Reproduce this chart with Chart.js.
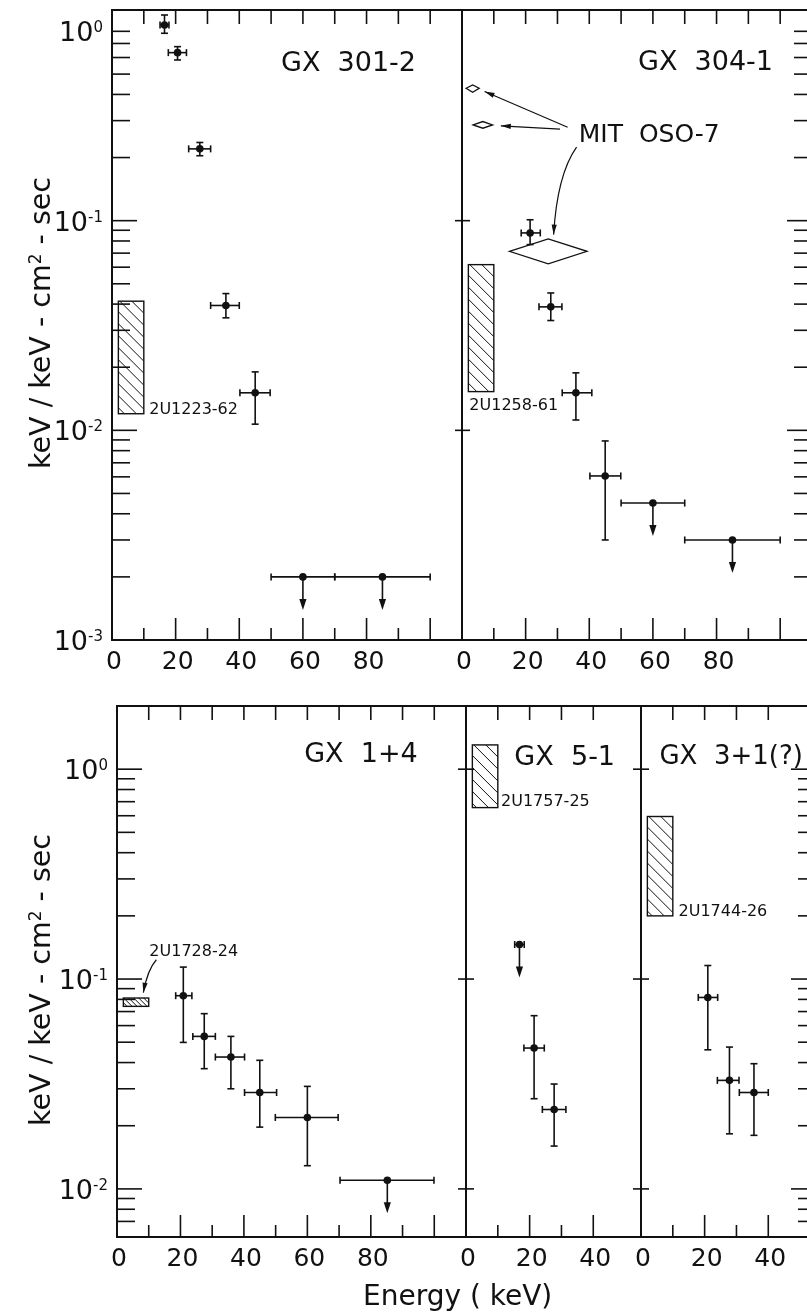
<!DOCTYPE html>
<html>
<head>
<meta charset="utf-8">
<script src="https://cdn.jsdelivr.net/npm/chart.js@4.4.1/dist/chart.umd.min.js"></script>
<style>
  html, body { margin: 0; padding: 0; background: #fff; width: 807px; height: 1313px; overflow: hidden; }
  canvas { position: absolute; }
</style>
</head>
<body>
<canvas id="gx301"></canvas>
<canvas id="gx304"></canvas>
<canvas id="gx1"></canvas>
<canvas id="gx5"></canvas>
<canvas id="gx3"></canvas>
<script>
(() => {
  'use strict';

  const INK = '#111';
  const FONT = '"DejaVu Sans", "Liberation Sans", sans-serif';

  // ---- data (keV, keV/keV-cm2-sec) ----
  // GX 301-2
  const gx301Energy   = [16.5, 20.6, 27.6, 35.8, 45.0];
  const gx301EnergyLo = [15.1, 17.7, 24.1, 31.0, 40.2];
  const gx301EnergyHi = [17.9, 23.4, 31.0, 40.0, 49.7];
  const gx301Flux     = [0.858, 0.633, 0.220, 0.0394, 0.0151];
  const gx301FluxLo   = [0.783, 0.584, 0.204, 0.0344, 0.0107];
  const gx301FluxHi   = [0.957, 0.676, 0.236, 0.0449, 0.0190];
  const gx301LimEnergy = [60, 85];
  const gx301LimLo     = [50, 70];
  const gx301LimHi     = [70, 100];
  const gx301LimFlux   = [0.002, 0.002];
  const gx301Uhuru     = [2, 10, 0.0120, 0.0413]; // keV lo, keV hi, flux lo, flux hi

  // GX 304-1
  const gx304Energy   = [21.4, 27.9, 35.8, 45.0];
  const gx304EnergyLo = [18.6, 24.2, 31.5, 40.2];
  const gx304EnergyHi = [24.6, 31.4, 40.8, 49.9];
  const gx304Flux     = [0.0874, 0.0388, 0.0151, 0.00606];
  const gx304FluxLo   = [0.0769, 0.0334, 0.0112, 0.0030];
  const gx304FluxHi   = [0.101, 0.0452, 0.0188, 0.0089];
  const gx304LimEnergy = [60, 85];
  const gx304LimLo     = [50, 70];
  const gx304LimHi     = [70, 100];
  const gx304LimFlux   = [0.0045, 0.003];
  const gx304Uhuru     = [2, 10, 0.0153, 0.0617];
  // MIT OSO-7 bands drawn as diamonds
  const osoEnergyLo = [1.3, 3.5, 14.9];
  const osoEnergyHi = [5.4, 9.6, 39.3];
  const osoFlux     = [0.428, 0.286, 0.0714];
  const osoFluxLo   = [0.410, 0.276, 0.0622];
  const osoFluxHi   = [0.444, 0.297, 0.0818];

  // GX 1+4
  const gx1Energy   = [20.9, 27.5, 35.9, 45.0, 60.0];
  const gx1EnergyLo = [18.5, 23.9, 31.0, 40.2, 49.9];
  const gx1EnergyHi = [23.6, 31.0, 40.2, 50.3, 69.7];
  const gx1Flux     = [0.0833, 0.0533, 0.0425, 0.0288, 0.0219];
  const gx1FluxLo   = [0.0499, 0.0374, 0.0300, 0.0197, 0.0129];
  const gx1FluxHi   = [0.114, 0.0684, 0.0533, 0.0410, 0.0308];
  const gx1LimEnergy = [85.2];
  const gx1LimLo     = [70.3];
  const gx1LimHi     = [99.9];
  const gx1LimFlux   = [0.011];
  const gx1Uhuru     = [2, 10, 0.0741, 0.0812];

  // GX 5-1
  const gx5Energy   = [21.4, 27.7];
  const gx5EnergyLo = [18.2, 24.0];
  const gx5EnergyHi = [24.6, 31.4];
  const gx5Flux     = [0.0469, 0.0239];
  const gx5FluxLo   = [0.0269, 0.0160];
  const gx5FluxHi   = [0.0669, 0.0316];
  const gx5LimEnergy = [16.8];
  const gx5LimLo     = [15.3];
  const gx5LimHi     = [18.3];
  const gx5LimFlux   = [0.146];
  const gx5Uhuru     = [2, 10, 0.656, 1.305];

  // GX 3+1(?)
  const gx3Energy   = [21.0, 27.8, 35.5];
  const gx3EnergyLo = [18.0, 24.0, 30.9];
  const gx3EnergyHi = [24.1, 30.8, 40.0];
  const gx3Flux     = [0.0817, 0.0329, 0.0288];
  const gx3FluxLo   = [0.046, 0.0183, 0.018];
  const gx3FluxHi   = [0.116, 0.0474, 0.0395];
  const gx3Uhuru    = [2, 10, 0.200, 0.595];

  // ---- tick labels ----
  const xLabelsWide   = [0, 20, 40, 60, 80];
  const xLabelsNarrow = [0, 20, 40];
  const topYLabelExp  = [0, -1, -2, -3];
  const topYLabelAt   = [0.8, 0.1, 0.01, 0.001]; // the original prints 10^0 beside its 0.8 tick
  const botYLabelExp  = [0, -1, -2];
  const botYLabelAt   = [1, 0.1, 0.01];

  const zip = (e, lo, hi, f, flo, fhi) => e.map((x, i) => ({
    x, y: f[i], xLo: lo[i], xHi: hi[i],
    yLo: flo ? flo[i] : null, yHi: fhi ? fhi[i] : null
  }));

  function logTicks(min, max) {
    const out = [];
    for (let k = -4; k <= 1; k++) {
      for (let m = 1; m <= 9; m++) {
        const v = m * Math.pow(10, k);
        if (v > min && v < max) out.push({ v, major: m === 1 });
      }
    }
    return out;
  }

  function line(ctx, x1, y1, x2, y2) {
    ctx.beginPath(); ctx.moveTo(x1, y1); ctx.lineTo(x2, y2); ctx.stroke();
  }

  function arrowHead(ctx, x1, y1, x2, y2, len, half) {
    const a = Math.atan2(y2 - y1, x2 - x1);
    ctx.beginPath();
    ctx.moveTo(x2, y2);
    ctx.lineTo(x2 - len * Math.cos(a) + half * Math.sin(a), y2 - len * Math.sin(a) - half * Math.cos(a));
    ctx.lineTo(x2 - len * Math.cos(a) - half * Math.sin(a), y2 - len * Math.sin(a) + half * Math.cos(a));
    ctx.closePath(); ctx.fill();
  }

  // text with superscript parts: [[text, isSup], ...]
  function supText(ctx, parts, x, y, size, supSize, align) {
    const w = parts.map(([t, s]) => {
      ctx.font = `${s ? supSize : size}px ${FONT}`;
      return ctx.measureText(t).width;
    });
    const total = w.reduce((a, b) => a + b, 0);
    let cx = align === 'right' ? x - total : align === 'center' ? x - total / 2 : x;
    ctx.textAlign = 'left';
    ctx.textBaseline = 'alphabetic';
    parts.forEach(([t, s], i) => {
      ctx.font = `${s ? supSize : size}px ${FONT}`;
      ctx.fillText(t, cx, s ? y - size * 0.33 : y);
      cx += w[i];
    });
  }

  const panelPlugin = {
    id: 'panel',
    beforeDatasetsDraw(chart, args, o) {
      const { ctx, chartArea: a } = chart;
      const x = chart.scales.x, y = chart.scales.y;
      const X = v => x.getPixelForValue(v), Y = v => y.getPixelForValue(v);
      ctx.save();
      ctx.strokeStyle = INK; ctx.fillStyle = INK;
      ctx.lineCap = 'butt';

      // frame
      ctx.lineWidth = 2;
      ctx.strokeRect(a.left, a.top, a.right - a.left, a.bottom - a.top);

      // energy ticks from the library's own tick list
      ctx.lineWidth = 1.6;
      x.ticks.forEach(t => {
        if (t.value <= x.min || t.value >= x.max) return;
        const px = X(t.value);
        line(ctx, px, a.top, px, a.top + 14);
        line(ctx, px, a.bottom, px, a.bottom - (t.value % 20 === 0 ? 22 : 12));
      });

      // flux ticks
      logTicks(o.tickMin, o.tickMax).forEach(t => {
        const py = Y(t.v);
        const len = t.major ? 25 : 18;
        if (o.leftTicks) line(ctx, a.left, py, a.left + len, py);
        if (o.rightTicks) line(ctx, a.right, py, a.right - len, py);
        if (o.crossTicks && t.major) line(ctx, a.left - 8, py, a.left + 8, py);
      });

      // Uhuru 2-10 keV boxes, hatched
      if (o.uhuru) {
        const [e0, e1, f0, f1] = o.uhuru;
        const l = X(e0), r = X(e1), t = Y(f1), b = Y(f0);
        const step = (b - t) < 20 ? 5 : 12;
        ctx.save();
        ctx.beginPath(); ctx.rect(l, t, r - l, b - t); ctx.clip();
        ctx.lineWidth = 1;
        for (let s = t - (r - l); s < b + 2; s += step) line(ctx, l, s, r, s + (r - l));
        ctx.restore();
        ctx.lineWidth = 1.4;
        ctx.strokeRect(l, t, r - l, b - t);
      }

      // MIT OSO-7 diamonds
      if (o.diamonds) {
        const d = o.diamonds;
        ctx.lineWidth = 1.3;
        d.lo.forEach((e0, i) => {
          const l = X(e0), r = X(d.hi[i]), m = (l + r) / 2;
          ctx.beginPath();
          ctx.moveTo(l, Y(d.f[i])); ctx.lineTo(m, Y(d.fHi[i]));
          ctx.lineTo(r, Y(d.f[i])); ctx.lineTo(m, Y(d.fLo[i]));
          ctx.closePath(); ctx.stroke();
        });
      }

      // annotation arrows
      (o.arrows || []).forEach(ar => {
        const [fx, fy] = [X(ar.from[0]), Y(ar.from[1])];
        const [tx, ty] = [X(ar.to[0]), Y(ar.to[1])];
        ctx.lineWidth = 1.2;
        ctx.beginPath(); ctx.moveTo(fx, fy);
        let sx = fx, sy = fy;
        if (ar.ctrl) {
          const cx = X(ar.ctrl[0]), cy = Y(ar.ctrl[1]);
          ctx.quadraticCurveTo(cx, cy, tx, ty); sx = cx; sy = cy;
        } else {
          ctx.lineTo(tx, ty);
        }
        ctx.stroke();
        arrowHead(ctx, sx, sy, tx, ty, 10, 2.6);
      });

      // error bars and upper-limit arrows
      ctx.lineWidth = 1.6;
      chart.data.datasets.forEach(ds => ds.data.forEach(p => {
        const px = X(p.x), py = Y(p.y);
        const xl = X(p.xLo), xh = X(p.xHi);
        line(ctx, xl, py, xh, py);
        line(ctx, xl, py - 3.5, xl, py + 3.5);
        line(ctx, xh, py - 3.5, xh, py + 3.5);
        if (p.yLo != null) {
          const yl = Y(p.yLo), yh = Y(p.yHi);
          line(ctx, px, yh, px, yl);
          line(ctx, px - 3.5, yh, px + 3.5, yh);
          line(ctx, px - 3.5, yl, px + 3.5, yl);
        }
        if (ds.limit) {
          line(ctx, px, py, px, py + 24);
          arrowHead(ctx, px, py, px, py + 33, 11, 3.6);
        }
      }));
      ctx.restore();
    },

    afterDraw(chart, args, o) {
      const { ctx, chartArea: a } = chart;
      const x = chart.scales.x, y = chart.scales.y;
      const X = v => x.getPixelForValue(v), Y = v => y.getPixelForValue(v);
      ctx.save();
      ctx.fillStyle = INK;

      // energy tick labels
      ctx.font = `25px ${FONT}`;
      ctx.textAlign = 'center';
      ctx.textBaseline = 'alphabetic';
      o.xLabels.forEach(v => ctx.fillText(String(v), X(v) + 2, a.bottom + 29));

      // decade labels
      if (o.yLabelAt) {
        o.yLabelAt.forEach((v, i) => {
          const py = Y(v);
          supText(ctx, [['10', false], [String(o.yLabelExp[i]), true]], a.left - 9, py + 10, 27, 15, 'right');
        });
      }

      // source names and small captions
      (o.texts || []).forEach(t => {
        ctx.font = `${t.size}px ${FONT}`;
        ctx.textAlign = 'left';
        ctx.textBaseline = 'alphabetic';
        ctx.fillText(t.text, X(t.at[0]), Y(t.at[1]) + t.size * 0.36);
      });

      // axis titles
      if (o.yTitle) {
        ctx.save();
        ctx.translate(o.yTitle.x, o.yTitle.y);
        ctx.rotate(-Math.PI / 2);
        supText(ctx, [['keV / keV - cm', false], ['2', true], [' - sec', false]], 0, 0, 28.5, 17, 'center');
        ctx.restore();
      }
      if (o.xTitle) {
        ctx.font = `28px ${FONT}`;
        ctx.textAlign = 'left';
        ctx.fillText(o.xTitle.text, o.xTitle.x, o.xTitle.y);
      }
      ctx.restore();
    }
  };

  // box: canvas placement and frame edges, page pixels
  function makePanel(id, box, range, sets, extra) {
    const cv = document.getElementById(id);
    cv.width = box.w; cv.height = box.h;
    cv.style.left = box.x + 'px'; cv.style.top = box.y + 'px';
    const yWidth = box.left - box.x;
    const xHeight = box.y + box.h - box.bottom;

    const datasets = sets.map(s => ({
      data: s.data,
      limit: !!s.limit,
      pointRadius: 3.8,
      pointBackgroundColor: INK,
      pointBorderWidth: 0,
      clip: false
    }));

    const local = o => o && Object.assign({}, o, { x: o.x - box.x, y: o.y - box.y });

    return new Chart(cv, {
      type: 'scatter',
      data: { datasets },
      options: {
        responsive: false,
        animation: false,
        devicePixelRatio: 1,
        events: [],
        layout: { autoPadding: false, padding: { top: box.top - box.y, right: box.x + box.w - box.right, left: 0, bottom: 0 } },
        plugins: {
          legend: { display: false },
          tooltip: { enabled: false },
          panel: Object.assign({}, extra, { yTitle: local(extra.yTitle), xTitle: local(extra.xTitle) })
        },
        scales: {
          x: {
            type: 'linear', min: 0, max: range.xMax,
            grid: { display: false }, border: { display: false },
            ticks: { display: false, stepSize: 10 },
            afterFit: s => { s.height = xHeight; }
          },
          y: {
            type: 'logarithmic', min: range.yMin, max: range.yMax,
            grid: { display: false }, border: { display: false },
            ticks: { display: false },
            afterFit: s => { s.width = yWidth; }
          }
        }
      },
      plugins: [panelPlugin]
    });
  }

  const TOP = { yMin: 0.001, yMax: 1.011, xMax: 110 };
  const BOT = { yMin: 0.0059, yMax: 2.0 };

  makePanel('gx301',
    { x: 0, y: 0, w: 470, h: 690, left: 112, right: 462, top: 10, bottom: 640 },
    TOP,
    [{ data: zip(gx301Energy, gx301EnergyLo, gx301EnergyHi, gx301Flux, gx301FluxLo, gx301FluxHi) },
     { data: zip(gx301LimEnergy, gx301LimLo, gx301LimHi, gx301LimFlux), limit: true }],
    {
      xLabels: xLabelsWide, yLabelAt: topYLabelAt, yLabelExp: topYLabelExp,
      leftTicks: true, tickMin: 0.0015, tickMax: 0.85,
      uhuru: gx301Uhuru,
      texts: [
        { text: 'GX  301-2', at: [53.1, 0.574], size: 27 },
        { text: '2U1223-62', at: [11.7, 0.0127], size: 16 }
      ],
      yTitle: { x: 50, y: 323 }
    });

  makePanel('gx304',
    { x: 455, y: 0, w: 365, h: 690, left: 462, right: 812, top: 10, bottom: 640 },
    TOP,
    [{ data: zip(gx304Energy, gx304EnergyLo, gx304EnergyHi, gx304Flux, gx304FluxLo, gx304FluxHi) },
     { data: zip(gx304LimEnergy, gx304LimLo, gx304LimHi, gx304LimFlux), limit: true }],
    {
      xLabels: xLabelsWide, crossTicks: true, rightTicks: true, tickMin: 0.0015, tickMax: 0.85,
      uhuru: gx304Uhuru,
      diamonds: { lo: osoEnergyLo, hi: osoEnergyHi, f: osoFlux, fLo: osoFluxLo, fHi: osoFluxHi },
      arrows: [
        { from: [33.2, 0.279], to: [7.1, 0.413] },
        { from: [30.8, 0.273], to: [12.2, 0.2834] },
        { from: [36.0, 0.2244], ctrl: [29.9, 0.1656], to: [28.8, 0.0858] }
      ],
      texts: [
        { text: 'GX  304-1', at: [55.3, 0.584], size: 27 },
        { text: 'MIT  OSO-7', at: [36.7, 0.2616], size: 25 },
        { text: '2U1258-61', at: [2.3, 0.0133], size: 16 }
      ]
    });

  makePanel('gx1',
    { x: 0, y: 690, w: 600, h: 623, left: 117, right: 466, top: 706, bottom: 1237 },
    Object.assign({ xMax: 110 }, BOT),
    [{ data: zip(gx1Energy, gx1EnergyLo, gx1EnergyHi, gx1Flux, gx1FluxLo, gx1FluxHi) },
     { data: zip(gx1LimEnergy, gx1LimLo, gx1LimHi, gx1LimFlux), limit: true }],
    {
      xLabels: xLabelsWide, yLabelAt: botYLabelAt, yLabelExp: botYLabelExp,
      leftTicks: true, tickMin: 0.0065, tickMax: 1.5,
      uhuru: gx1Uhuru,
      arrows: [{ from: [12.4, 0.1236], ctrl: [9.6, 0.1107], to: [8.3, 0.0861] }],
      texts: [
        { text: 'GX  1+4', at: [59, 1.209], size: 27 },
        { text: '2U1728-24', at: [10.2, 0.1378], size: 16 }
      ],
      yTitle: { x: 50, y: 980 },
      xTitle: { text: 'Energy ( keV)', x: 363, y: 1305 }
    });

  makePanel('gx5',
    { x: 458, y: 690, w: 190, h: 623, left: 466, right: 641, top: 706, bottom: 1237 },
    Object.assign({ xMax: 55 }, BOT),
    [{ data: zip(gx5Energy, gx5EnergyLo, gx5EnergyHi, gx5Flux, gx5FluxLo, gx5FluxHi) },
     { data: zip(gx5LimEnergy, gx5LimLo, gx5LimHi, gx5LimFlux), limit: true }],
    {
      xLabels: xLabelsNarrow, crossTicks: true, tickMin: 0.0065, tickMax: 1.5,
      uhuru: gx5Uhuru,
      texts: [
        { text: 'GX  5-1', at: [15.2, 1.17], size: 27 },
        { text: '2U1757-25', at: [11.0, 0.7086], size: 16 }
      ]
    });

  makePanel('gx3',
    { x: 633, y: 690, w: 190, h: 623, left: 641, right: 816, top: 706, bottom: 1237 },
    Object.assign({ xMax: 55 }, BOT),
    [{ data: zip(gx3Energy, gx3EnergyLo, gx3EnergyHi, gx3Flux, gx3FluxLo, gx3FluxHi) }],
    {
      xLabels: xLabelsNarrow, crossTicks: true, rightTicks: true, tickMin: 0.0065, tickMax: 1.5,
      uhuru: gx3Uhuru,
      texts: [
        { text: 'GX  3+1(?)', at: [5.8, 1.17], size: 26 },
        { text: '2U1744-26', at: [11.8, 0.212], size: 16 }
      ]
    });
})();
</script>
</body>
</html>
